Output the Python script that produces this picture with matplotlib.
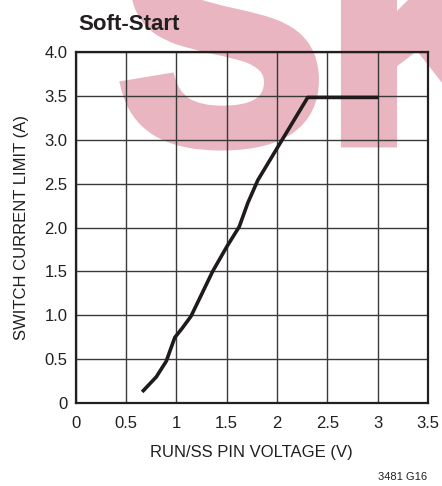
import numpy as np
import matplotlib.pyplot as plt
import matplotlib.patheffects as pe

# soft-start curve
run_ss_v = [0.66, 0.80, 0.90, 0.95, 0.985, 1.055, 1.145, 1.255, 1.36, 1.50, 1.625, 1.71, 1.81, 1.91, 2.01, 2.305, 3.01]
current_a = [0.13, 0.30, 0.48, 0.64, 0.75, 0.85, 0.99, 1.25, 1.50, 1.78, 2.01, 2.28, 2.54, 2.73, 2.92, 3.48, 3.48]

x_ticks = [0, 0.5, 1, 1.5, 2, 2.5, 3, 3.5]
x_labels = ['0', '0.5', '1', '1.5', '2', '2.5', '3', '3.5']
y_ticks = [0, 0.5, 1.0, 1.5, 2.0, 2.5, 3.0, 3.5, 4.0]
y_labels = ['0', '0.5', '1.0', '1.5', '2.0', '2.5', '3.0', '3.5', '4.0']

plt.rcParams['font.family'] = ['Liberation Sans', 'DejaVu Sans']

fig = plt.figure(figsize=(4.42, 4.86), dpi=100)

# pink watermark behind everything (stroke to make it heavier)
pink = '#e8b5c0'
fig.text(0.265, 0.708, 'SK', fontsize=225, fontweight='bold', color=pink,
         family='Liberation Sans', ha='left', va='baseline', zorder=-5,
         path_effects=[pe.withStroke(linewidth=8, foreground=pink, joinstyle='miter')])

ax = fig.add_axes([0.1713, 0.1701, 0.7970, 0.7235])
ax.patch.set_alpha(0)

ax.plot(run_ss_v, current_a, color='#1f1b1c', lw=2.6, solid_capstyle='butt', zorder=3)

ax.set_xlim(0, 3.5)
ax.set_ylim(0, 4.0)
ax.set_xticks(x_ticks)
ax.set_xticklabels(x_labels)
ax.set_yticks(y_ticks)
ax.set_yticklabels(y_labels)
ax.tick_params(length=0, labelsize=12, colors='#231f20')
ax.tick_params(axis='x', pad=9)
ax.tick_params(axis='y', pad=6)
ax.grid(True, color='#3a3a3a', lw=1.0)
for s in ax.spines.values():
    s.set_linewidth(1.6)
    s.set_color('#231f20')

ax.set_xlabel('RUN/SS PIN VOLTAGE (V)', fontsize=12, color='#231f20', labelpad=10)
ax.set_ylabel('SWITCH CURRENT LIMIT (A)', fontsize=12, color='#231f20', labelpad=11)

fig.text(0.177, 0.938, 'Soft-Start', fontsize=16, fontweight='bold', color='#231f20',
         ha='left', va='baseline')
fig.text(0.966, 0.012, '3481 G16', fontsize=8, color='#231f20', ha='right', va='baseline')

fig.savefig('out.png', dpi=100)
